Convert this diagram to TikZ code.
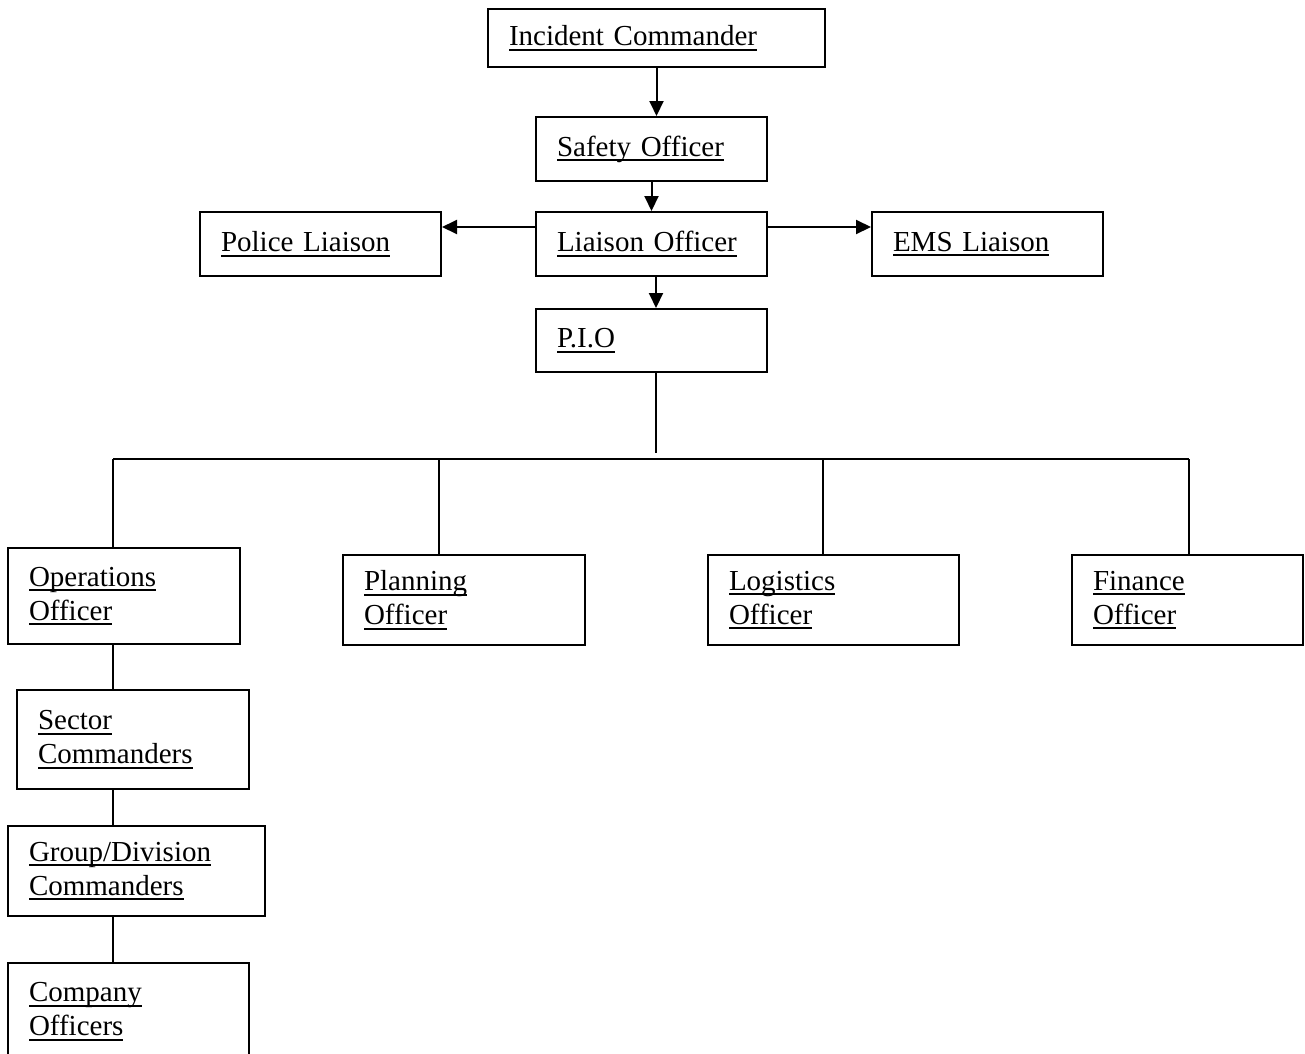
\documentclass[tikz,border=0pt]{standalone}
\usepackage{fontspec}
\setmainfont{Liberation Serif}
\usepackage{tikz}
\usetikzlibrary{arrows.meta,positioning}

% underlined line of text, as in the original chart
\newcommand{\uln}[1]{\leavevmode\setbox0=\hbox{#1}\rlap{\rule[-5pt]{\wd0}{2pt}}\box0}

\begin{document}
\begin{tikzpicture}[
    x=1pt, y=-1pt,
    every node/.style={font=\fontsize{29}{34}\selectfont},
    chartbox/.style={
        draw=black,
        line width=2pt,
        inner xsep=21pt,
        inner ysep=0pt,
        align=left,
    },
    chartarrow/.style={
        -{Triangle[length=15pt,width=14pt]},
        line width=2pt,
    },
    chartline/.style={
        line width=2pt,
    },
]
\fill[white] (0,0) rectangle (1305,1053);
\useasboundingbox (0,0) rectangle (1305,1053);

\node[chartbox,minimum width=337pt,minimum height=58pt,text width=295pt] (ic) at (656.5,38) {\uln{Incident Commander}};
\node[chartbox,minimum width=231pt,minimum height=64pt,text width=189pt] (safety) at (651.5,149) {\uln{Safety Officer}};
\node[chartbox,minimum width=231pt,minimum height=64pt,text width=189pt] (liaison) at (651.5,244) {\uln{Liaison Officer}};
\node[chartbox,minimum width=241pt,minimum height=64pt,text width=199pt] (police) at (320.5,244) {\uln{Police Liaison}};
\node[chartbox,minimum width=231pt,minimum height=64pt,text width=189pt] (ems) at (987.5,244) {\uln{EMS Liaison}};
\node[chartbox,minimum width=231pt,minimum height=63pt,text width=189pt] (pio) at (651.5,340.5) {\uln{P.I.O}};

\node[chartbox,minimum width=232pt,minimum height=96pt,text width=190pt] (ops) at (124,596) {\uln{Operations}\\\uln{Officer}};
\node[chartbox,minimum width=242pt,minimum height=90pt,text width=200pt] (plan) at (464,600) {\uln{Planning}\\\uln{Officer}};
\node[chartbox,minimum width=251pt,minimum height=90pt,text width=209pt] (logi) at (833.5,600) {\uln{Logistics}\\\uln{Officer}};
\node[chartbox,minimum width=231pt,minimum height=90pt,text width=189pt] (fin) at (1187.5,600) {\uln{Finance}\\\uln{Officer}};

\node[chartbox,minimum width=232pt,minimum height=99pt,text width=190pt] (sector) at (133,739.5) {\uln{Sector}\\\uln{Commanders}};
\node[chartbox,minimum width=257pt,minimum height=90pt,text width=215pt] (group) at (136.5,871) {\uln{Group/Division}\\\uln{Commanders}};
\node[chartbox,minimum width=241pt,minimum height=97pt,text width=199pt] (company) at (128.5,1011.5) {\uln{Company}\\\uln{Officers}};

\coordinate (pioend) at (656,453);
\coordinate (b1) at (113,459);
\coordinate (b2) at (439,459);
\coordinate (b3) at (823,459);
\coordinate (b4) at (1189,459);

\draw[chartarrow] (ic.south) -- (ic.south |- safety.north);
\draw[chartarrow] (safety) -- (liaison);
\draw[chartarrow] ([yshift=17pt]liaison.west) -- ([yshift=17pt]police.east);
\draw[chartarrow] ([yshift=17pt]liaison.east) -- ([yshift=17pt]ems.west);
\draw[chartarrow] ([xshift=4.5pt]liaison.south) -- ([xshift=4.5pt]pio.north);

\draw[chartline] ([xshift=4.5pt]pio.south) -- (pioend);
\draw[chartline] (b1) -- (b4);
\draw[chartline] (b1) -- (b1 |- ops.north);
\draw[chartline] (b2) -- (b2 |- plan.north);
\draw[chartline] (b3) -- (b3 |- logi.north);
\draw[chartline] (b4) -- (b4 |- fin.north);
\foreach \upper/\lower in {ops/sector,sector/group,group/company}
    \draw[chartline] (b1 |- \upper.south) -- (b1 |- \lower.north);
\end{tikzpicture}
\end{document}
